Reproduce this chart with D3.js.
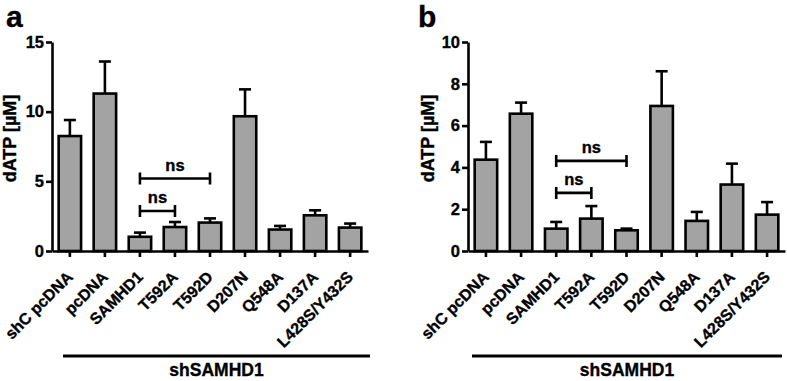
<!DOCTYPE html>
<html>
<head>
<meta charset="utf-8">
<script src="https://cdn.jsdelivr.net/npm/d3@7"></script>
<style>
  body { margin: 0; background: #fff; }
  svg { display: block; font-family: "Liberation Sans", Arial, sans-serif; font-weight: bold; }
  svg text { stroke: #000; stroke-width: 0.35px; }
</style>
</head>
<body>
<svg id="chart" width="787" height="381"></svg>
<script>
// categories shared by both panels
const categories = ["shC pcDNA", "pcDNA", "SAMHD1", "T592A", "T592D", "D207N", "Q548A", "D137A", "L428S/Y432S"];

// panel a: dATP mean and upper error (sem)
const meanA = [8.25, 11.3, 1.02, 1.72, 2.04, 9.67, 1.54, 2.56, 1.68];
const errA  = [1.15, 2.3, 0.3, 0.36, 0.3, 1.93, 0.26, 0.36, 0.29];
const ticksA = [0, 5, 10, 15];

// panel b
const meanB = [4.37, 6.57, 1.07, 1.55, 0.99, 6.94, 1.44, 3.18, 1.74];
const errB  = [0.85, 0.53, 0.32, 0.6, 0.08, 1.66, 0.43, 1.0, 0.6];
const ticksB = [0, 2, 4, 6, 8, 10];

// significance brackets: [from, to, level, label]
const sigA = [["SAMHD1", "T592A", 2.87, "ns"], ["SAMHD1", "T592D", 5.2, "ns"]];
const sigB = [["SAMHD1", "T592A", 2.78, "ns"], ["SAMHD1", "T592D", 4.31, "ns"]];

const groupLabel = "shSAMHD1";
const yTitle = "dATP [\u00b5M]";

const svg = d3.select("#chart");

function drawPanel(opts) {
    let g = svg.append("g");
    let top = 42, bottom = 251;

    let x = d3.scaleBand()
        .domain(categories)
        .range([opts.x0, opts.x1])
        .paddingInner(0.36)
        .paddingOuter(0.19);

    let y = d3.scaleLinear()
        .domain([0, opts.max])
        .range([bottom, top]);

    let data = categories.map((c, i) => ({name: c, mean: opts.mean[i], err: opts.err[i]}));

    // bars
    g.selectAll("rect.bar").data(data).enter().append("rect")
        .attr("class", "bar")
        .attr("x", d => x(d.name))
        .attr("width", x.bandwidth())
        .attr("y", d => y(d.mean))
        .attr("height", d => y(0) - y(d.mean))
        .attr("fill", "#a3a3a3")
        .attr("stroke", "#000")
        .attr("stroke-width", 2.6);

    // error bars (upper only)
    let eb = g.selectAll("g.err").data(data).enter().append("g").attr("class", "err");
    eb.append("line")
        .attr("x1", d => x(d.name) + x.bandwidth() / 2)
        .attr("x2", d => x(d.name) + x.bandwidth() / 2)
        .attr("y1", d => y(d.mean))
        .attr("y2", d => y(d.mean + d.err))
        .attr("stroke", "#000").attr("stroke-width", 2.6);
    eb.append("line")
        .attr("x1", d => x(d.name) + x.bandwidth() / 2 - 6)
        .attr("x2", d => x(d.name) + x.bandwidth() / 2 + 6)
        .attr("y1", d => y(d.mean + d.err))
        .attr("y2", d => y(d.mean + d.err))
        .attr("stroke", "#000").attr("stroke-width", 2.6);

    // y axis
    let yAxis = g.append("g")
        .attr("transform", "translate(" + opts.x0 + ",0)")
        .call(d3.axisLeft(y).tickValues(opts.ticks).tickSize(6).tickSizeOuter(0).tickPadding(2));
    yAxis.selectAll("path, line").attr("stroke", "#000").attr("stroke-width", 2.6);
    yAxis.selectAll("text")
        .attr("font-size", 16.5).attr("font-weight", "bold")
        .attr("font-family", "Liberation Sans, Arial, sans-serif")
        .attr("fill", "#000");

    // x axis
    let xAxis = g.append("g")
        .attr("transform", "translate(0," + bottom + ")")
        .call(d3.axisBottom(x).tickSize(6).tickSizeOuter(0));
    xAxis.selectAll("path, line").attr("stroke", "#000").attr("stroke-width", 2.6);
    xAxis.selectAll("text")
        .attr("font-size", 16).attr("font-weight", "bold")
        .attr("font-family", "Liberation Sans, Arial, sans-serif")
        .attr("fill", "#000")
        .attr("text-anchor", "end")
        .attr("x", 0).attr("y", 0).attr("dy", 0)
        .attr("transform", "translate(4,27) rotate(-45)");

    // y title
    g.append("text")
        .attr("transform", "translate(" + opts.titleX + "," + ((top + bottom) / 2 - 8) + ") rotate(-90)")
        .attr("text-anchor", "middle")
        .attr("font-size", 18)
        .text(yTitle);

    // panel letter
    g.append("text")
        .attr("x", opts.letterX).attr("y", 27)
        .attr("font-size", 30)
        .text(opts.letter);

    // significance brackets
    let sig = g.selectAll("g.sig").data(opts.sig).enter().append("g").attr("class", "sig");
    let cx = n => x(n) + x.bandwidth() / 2;
    sig.append("path")
        .attr("d", d => "M" + cx(d[0]) + "," + (y(d[2]) - 6) + "V" + (y(d[2]) + 6)
            + "M" + cx(d[0]) + "," + y(d[2]) + "H" + cx(d[1])
            + "M" + cx(d[1]) + "," + (y(d[2]) - 6) + "V" + (y(d[2]) + 6))
        .attr("fill", "none").attr("stroke", "#000").attr("stroke-width", 2.6);
    sig.append("text")
        .attr("x", d => (cx(d[0]) + cx(d[1])) / 2)
        .attr("y", d => y(d[2]) - 8)
        .attr("text-anchor", "middle")
        .attr("font-size", 16.5)
        .text(d => d[3]);

    // group line + label
    g.append("line")
        .attr("x1", opts.groupX0).attr("x2", opts.groupX1)
        .attr("y1", 356).attr("y2", 356)
        .attr("stroke", "#000").attr("stroke-width", 3);
    g.append("text")
        .attr("x", (opts.groupX0 + opts.groupX1) / 2).attr("y", 376)
        .attr("text-anchor", "middle")
        .attr("font-size", 17.5)
        .text(groupLabel);
}

drawPanel({mean: meanA, err: errA, ticks: ticksA, max: 15, sig: sigA,
    x0: 52, x1: 368, titleX: 16, letterX: 6, letter: "a", groupX0: 63, groupX1: 370});
drawPanel({mean: meanB, err: errB, ticks: ticksB, max: 10, sig: sigB,
    x0: 468, x1: 785, titleX: 434, letterX: 418, letter: "b", groupX0: 472, groupX1: 782});
</script>
</body>
</html>
